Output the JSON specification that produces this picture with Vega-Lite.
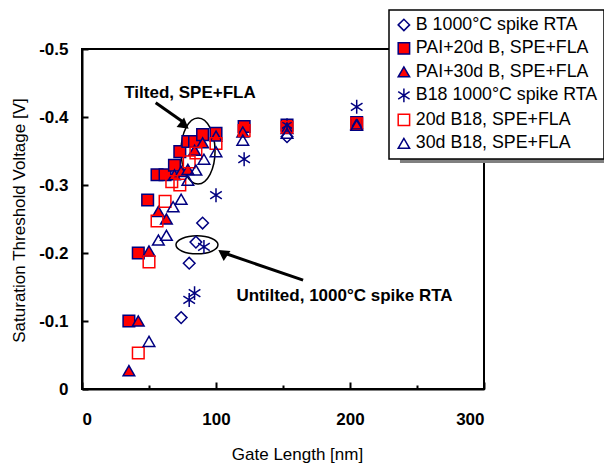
{
  "$schema": "https://vega.github.io/schema/vega-lite/v6.json",
  "width": 402,
  "height": 340,
  "autosize": {"type": "none"},
  "padding": {"left": 82, "top": 49, "right": 120, "bottom": 74},
  "background": "white",
  "config": {
    "view": {"stroke": "black", "strokeWidth": 2},
    "font": "Liberation Sans",
    "legend": {"strokeWidth": 1.5},
    "axis": {
      "grid": false,
      "domainColor": "black",
      "domainWidth": 2,
      "tickColor": "black",
      "tickWidth": 2,
      "labelFont": "Liberation Sans",
      "labelFontWeight": "bold",
      "labelFontSize": 17,
      "labelColor": "black",
      "titleFont": "Liberation Sans",
      "titleFontWeight": "normal",
      "titleFontSize": 17,
      "titleColor": "black"
    }
  },
  "datasets": {
    "pts": [
      {"s": "B 1000°C spike RTA", "x": 74, "y": -0.105},
      {"s": "B 1000°C spike RTA", "x": 80, "y": -0.185},
      {"s": "B 1000°C spike RTA", "x": 85, "y": -0.216},
      {"s": "B 1000°C spike RTA", "x": 90, "y": -0.244},
      {"s": "B 1000°C spike RTA", "x": 153, "y": -0.371},
      {"s": "PAI+20d B, SPE+FLA", "x": 35, "y": -0.1},
      {"s": "PAI+20d B, SPE+FLA", "x": 42, "y": -0.2},
      {"s": "PAI+20d B, SPE+FLA", "x": 49, "y": -0.278},
      {"s": "PAI+20d B, SPE+FLA", "x": 56, "y": -0.315},
      {"s": "PAI+20d B, SPE+FLA", "x": 62, "y": -0.315},
      {"s": "PAI+20d B, SPE+FLA", "x": 69, "y": -0.329},
      {"s": "PAI+20d B, SPE+FLA", "x": 73, "y": -0.349},
      {"s": "PAI+20d B, SPE+FLA", "x": 79, "y": -0.364},
      {"s": "PAI+20d B, SPE+FLA", "x": 84, "y": -0.364},
      {"s": "PAI+20d B, SPE+FLA", "x": 90, "y": -0.374},
      {"s": "PAI+20d B, SPE+FLA", "x": 100, "y": -0.376},
      {"s": "PAI+20d B, SPE+FLA", "x": 121, "y": -0.386},
      {"s": "PAI+20d B, SPE+FLA", "x": 153, "y": -0.388},
      {"s": "PAI+20d B, SPE+FLA", "x": 205, "y": -0.392},
      {"s": "PAI+30d B, SPE+FLA", "x": 35, "y": -0.027},
      {"s": "PAI+30d B, SPE+FLA", "x": 42, "y": -0.1},
      {"s": "PAI+30d B, SPE+FLA", "x": 50, "y": -0.203},
      {"s": "PAI+30d B, SPE+FLA", "x": 57, "y": -0.261},
      {"s": "PAI+30d B, SPE+FLA", "x": 63, "y": -0.25},
      {"s": "PAI+30d B, SPE+FLA", "x": 69, "y": -0.315},
      {"s": "PAI+30d B, SPE+FLA", "x": 74, "y": -0.32},
      {"s": "PAI+30d B, SPE+FLA", "x": 79, "y": -0.323},
      {"s": "PAI+30d B, SPE+FLA", "x": 84, "y": -0.351},
      {"s": "PAI+30d B, SPE+FLA", "x": 90, "y": -0.362},
      {"s": "PAI+30d B, SPE+FLA", "x": 100, "y": -0.372},
      {"s": "PAI+30d B, SPE+FLA", "x": 120, "y": -0.378},
      {"s": "PAI+30d B, SPE+FLA", "x": 153, "y": -0.383},
      {"s": "PAI+30d B, SPE+FLA", "x": 205, "y": -0.39},
      {"s": "B18 1000°C spike RTA", "x": 80, "y": -0.131},
      {"s": "B18 1000°C spike RTA", "x": 84, "y": -0.141},
      {"s": "B18 1000°C spike RTA", "x": 91, "y": -0.209},
      {"s": "B18 1000°C spike RTA", "x": 100, "y": -0.285},
      {"s": "B18 1000°C spike RTA", "x": 121, "y": -0.338},
      {"s": "B18 1000°C spike RTA", "x": 153, "y": -0.388},
      {"s": "B18 1000°C spike RTA", "x": 205, "y": -0.415},
      {"s": "20d B18, SPE+FLA", "x": 42, "y": -0.053},
      {"s": "20d B18, SPE+FLA", "x": 50, "y": -0.187},
      {"s": "20d B18, SPE+FLA", "x": 56, "y": -0.247},
      {"s": "20d B18, SPE+FLA", "x": 62, "y": -0.276},
      {"s": "20d B18, SPE+FLA", "x": 67, "y": -0.305},
      {"s": "20d B18, SPE+FLA", "x": 73, "y": -0.3},
      {"s": "20d B18, SPE+FLA", "x": 80, "y": -0.334},
      {"s": "20d B18, SPE+FLA", "x": 85, "y": -0.347},
      {"s": "20d B18, SPE+FLA", "x": 100, "y": -0.361},
      {"s": "20d B18, SPE+FLA", "x": 121, "y": -0.38},
      {"s": "20d B18, SPE+FLA", "x": 153, "y": -0.385},
      {"s": "20d B18, SPE+FLA", "x": 205, "y": -0.39},
      {"s": "30d B18, SPE+FLA", "x": 50, "y": -0.07},
      {"s": "30d B18, SPE+FLA", "x": 57, "y": -0.219},
      {"s": "30d B18, SPE+FLA", "x": 63, "y": -0.226},
      {"s": "30d B18, SPE+FLA", "x": 68, "y": -0.268},
      {"s": "30d B18, SPE+FLA", "x": 74, "y": -0.279},
      {"s": "30d B18, SPE+FLA", "x": 79, "y": -0.307},
      {"s": "30d B18, SPE+FLA", "x": 85, "y": -0.322},
      {"s": "30d B18, SPE+FLA", "x": 91, "y": -0.338},
      {"s": "30d B18, SPE+FLA", "x": 100, "y": -0.349},
      {"s": "30d B18, SPE+FLA", "x": 120, "y": -0.366},
      {"s": "30d B18, SPE+FLA", "x": 153, "y": -0.376},
      {"s": "30d B18, SPE+FLA", "x": 205, "y": -0.388}
    ],
    "shadow": [{"x": 237.3, "x2": 389.6, "y": -0.5426, "y2": -0.3324}],
    "arrows": [
      {"x": 55, "y": -0.421, "x2": 76, "y2": -0.392},
      {"x": 165, "y": -0.16, "x2": 106, "y2": -0.2}
    ],
    "head1": [{"x": 76.5, "y": -0.3875}],
    "head2": [{"x": 105, "y": -0.2}],
    "ell1": [{"x": 86.6, "y": -0.35}],
    "ell2": [{"x": 85.8, "y": -0.212}],
    "notes": [
      {"x": 80.6, "y": -0.436, "label": "Tilted, SPE+FLA"},
      {"x": 195.9, "y": -0.137, "label": "Untilted, 1000°C spike RTA"}
    ]
  },
  "encoding": {
    "x": {
      "field": "x",
      "type": "quantitative",
      "scale": {"domain": [0, 300], "nice": false, "zero": false},
      "axis": {
        "title": "Gate Length [nm]",
        "values": [0, 50, 100, 150, 200, 250, 300],
        "labelExpr": "datum.value % 100 == 0 ? datum.label : ''",
        "tickSize": {"condition": {"test": "datum.value % 100 == 0", "value": -7}, "value": -4},
        "labelPadding": 29,
        "titleX": 215,
        "titleY": 70,
        "titleAlign": "center",
        "titleBaseline": "alphabetic"
      }
    },
    "y": {
      "field": "y",
      "type": "quantitative",
      "scale": {"domain": [0, -0.5], "nice": false, "zero": false},
      "axis": {
        "title": "Saturation Threshold Voltage [V]",
        "values": [0, -0.1, -0.2, -0.3, -0.4, -0.5],
        "labelExpr": "datum.value == 0 ? '0' : '-' + format(abs(datum.value), '.1f')",
        "tickSize": -6,
        "labelPadding": 20,
        "titleX": -63,
        "titleY": 171,
        "titleAngle": 270,
        "titleAlign": "center",
        "titleBaseline": "middle"
      }
    }
  },
  "layer": [
    {
      "data": {"name": "shadow"},
      "mark": {"type": "rect", "clip": false, "fill": "#808080"},
      "encoding": {"x2": {"field": "x2"}, "y2": {"field": "y2"}}
    },
    {
      "data": {"name": "ell1"},
      "mark": {"type": "point", "shape": "M-1,0A1,1.94,0,1,1,1,0A1,1.94,0,1,1,-1,0Z", "size": 1156, "stroke": "black", "strokeWidth": 1.5, "fill": null, "opacity": 1}
    },
    {
      "data": {"name": "ell2"},
      "mark": {"type": "point", "shape": "M-1,0A1,0.43,0,1,1,1,0A1,0.43,0,1,1,-1,0Z", "size": 1764, "stroke": "black", "strokeWidth": 1.5, "fill": null, "opacity": 1}
    },
    {
      "data": {"name": "arrows"},
      "mark": {"type": "rule", "color": "black", "strokeWidth": 3},
      "encoding": {"x2": {"field": "x2"}, "y2": {"field": "y2"}}
    },
    {
      "data": {"name": "head1"},
      "mark": {"type": "point", "shape": "triangle-right", "filled": true, "color": "black", "size": 150, "angle": 38, "opacity": 1}
    },
    {
      "data": {"name": "head2"},
      "mark": {"type": "point", "shape": "triangle-right", "filled": true, "color": "black", "size": 150, "angle": 214, "opacity": 1}
    },
    {
      "data": {"name": "notes"},
      "mark": {"type": "text", "font": "Liberation Sans", "fontWeight": "bold", "fontSize": 17, "align": "center", "baseline": "middle", "color": "black"},
      "encoding": {"text": {"field": "label"}}
    },
    {
      "data": {"name": "pts"},
      "mark": {"type": "point", "filled": true, "size": 135, "strokeWidth": 1.5, "opacity": 1},
      "encoding": {
        "shape": {
          "field": "s",
          "type": "nominal",
          "scale": {
            "domain": ["B 1000°C spike RTA", "PAI+20d B, SPE+FLA", "PAI+30d B, SPE+FLA", "B18 1000°C spike RTA", "20d B18, SPE+FLA", "30d B18, SPE+FLA"],
            "range": ["diamond", "square", "triangle-up", "M0,-1.2L0,1.2M-1,-0.65L1,0.65M-1,0.65L1,-0.65", "square", "triangle-up"]
          },
          "legend": {
            "title": null,
            "orient": "none",
            "legendX": 307,
            "legendY": -39,
            "labelFont": "Liberation Sans",
            "labelFontSize": 17.8,
            "labelColor": "black",
            "labelLimit": 300,
            "symbolSize": 130,
            "symbolStrokeWidth": 1.5,
            "rowPadding": 4.5,
            "padding": 6,
            "labelOffset": 3,
            "fillColor": "white",
            "strokeColor": "black"
          }
        },
        "fill": {
          "field": "s",
          "type": "nominal",
          "scale": {
            "domain": ["B 1000°C spike RTA", "PAI+20d B, SPE+FLA", "PAI+30d B, SPE+FLA", "B18 1000°C spike RTA", "20d B18, SPE+FLA", "30d B18, SPE+FLA"],
            "range": ["transparent", "#ff0000", "#ff0000", "transparent", "transparent", "transparent"]
          }
        },
        "stroke": {
          "field": "s",
          "type": "nominal",
          "scale": {
            "domain": ["B 1000°C spike RTA", "PAI+20d B, SPE+FLA", "PAI+30d B, SPE+FLA", "B18 1000°C spike RTA", "20d B18, SPE+FLA", "30d B18, SPE+FLA"],
            "range": ["#000080", "#000080", "#000080", "#000080", "#ff0000", "#000080"]
          }
        }
      }
    }
  ]
}
